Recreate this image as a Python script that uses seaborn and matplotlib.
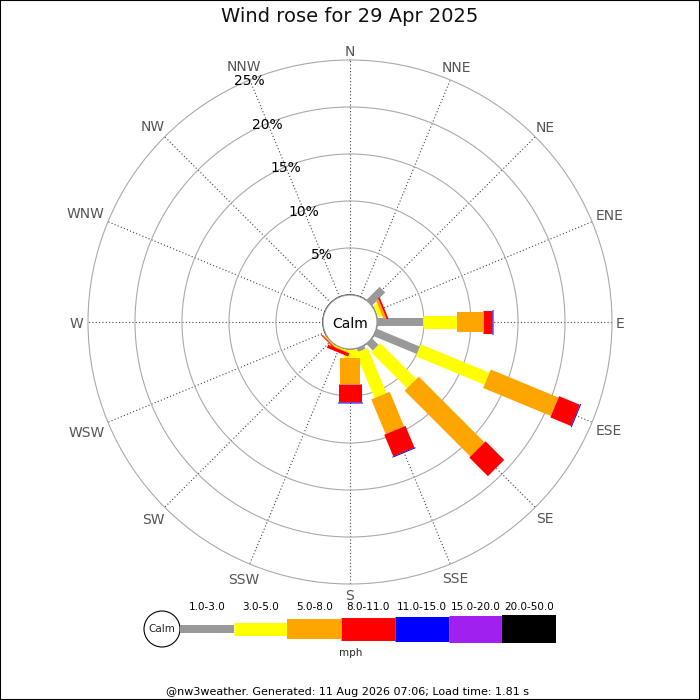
import numpy as np
import seaborn as sns
import matplotlib.pyplot as plt
from matplotlib.patches import Circle, Rectangle
from matplotlib.textpath import TextPath

# =========================
# Data (percent of the day per direction and speed band)
# =========================
directions = ['N', 'NNE', 'NE', 'ENE', 'E', 'ESE', 'SE', 'SSE',
              'S', 'SSW', 'SW', 'WSW', 'W', 'WNW', 'NW', 'NNW']
speed_bins = ['1.0-3.0', '3.0-5.0', '5.0-8.0', '8.0-11.0',
              '11.0-15.0', '15.0-20.0', '20.0-50.0']
bin_colors = ['#999999', '#ffff00', '#ffa500', '#ff0000',
              '#0000ff', '#a020f0', '#000000']

#            N    NNE  NE   ENE  E    ESE  SE   SSE  S    SSW   SW   WSW  W    WNW  NW   NNW
pct_1_3   = [0,   0,   2.0, 0.1, 4.9, 5.0, 1.0, 0.4, 0,   0,    0,   0,   0,   0,   0,   0]
pct_3_5   = [0,   0,   0,   0.45, 3.6, 7.9, 5.4, 5.2, 1.0, 0.15, 0.1, 0,   0,   0,   0,   0]
pct_5_8   = [0,   0,   0,   0.3, 2.8, 7.8, 9.9, 4.0, 2.7, 0.1,  0.1, 0,   0,   0,   0,   0]
pct_8_11  = [0,   0,   0,   0.2, 0.9, 2.4, 2.8, 2.5, 1.9, 0.35, 0.1, 0,   0,   0,   0,   0]
pct_11_15 = [0,   0,   0,   0,   0.1, 0.1, 0,   0.1, 0.15, 0,   0,   0,   0,   0,   0,   0]
pct_15_20 = [0] * 16
pct_20_50 = [0] * 16

ring_pcts = [5, 10, 15, 20, 25]
title = 'Wind rose for 29 Apr 2025'
footer = '@nw3weather. Generated: 11 Aug 2026 07:06; Load time: 1.81 s'

# bar thickness (pixels) per speed band, wider for stronger winds
bar_px = [8, 13, 20, 23, 25, 27, 28]

pct_table = np.array([pct_1_3, pct_3_5, pct_5_8, pct_8_11,
                      pct_11_15, pct_15_20, pct_20_50])

# =========================
# Figure setup
# =========================
sns.set_theme(style="white")
plt.rcParams['font.family'] = ['DejaVu Sans']

DPI = 100
fig = plt.figure(figsize=(7, 7), dpi=DPI)
fig.patch.set_facecolor('white')

# polar area: centre (350, 322) px, outer radius 262 px
R_PX = 262
CALM_PX = 27
rorigin = -CALM_PX * ring_pcts[-1] / (R_PX - CALM_PX)
ppu = R_PX / (ring_pcts[-1] - rorigin)   # pixels per percent

ax = fig.add_axes([(350 - R_PX) / 700, (700 - 322 - R_PX) / 700,
                   2 * R_PX / 700, 2 * R_PX / 700], projection='polar')
ax.set_theta_zero_location('N')
ax.set_theta_direction(-1)
ax.set_ylim(0, ring_pcts[-1])
ax.set_rorigin(rorigin)

thetas = np.radians(np.arange(len(directions)) * 22.5)
ax.set_xticks(thetas)
ax.set_xticklabels([])
ax.set_yticks(ring_pcts[:-1])
ax.set_yticklabels([])
ax.tick_params(length=0)
ax.xaxis.grid(True, linestyle=(0, (1, 2)), color='#444444', linewidth=0.8)
ax.yaxis.grid(True, linestyle='-', color='#aaaaaa', linewidth=0.8)
ax.spines['polar'].set_color('#aaaaaa')
ax.spines['polar'].set_linewidth(0.8)
ax.spines['inner'].set_visible(False)
ax.set_facecolor('white')

# =========================
# Stacked bars
# =========================
bottoms = np.zeros(len(directions))
for i, vals in enumerate(pct_table):
    mask = vals > 0
    if mask.any():
        ax.vlines(thetas[mask], bottoms[mask], bottoms[mask] + vals[mask],
                  colors=bin_colors[i], linewidths=bar_px[i] * 72 / DPI,
                  capstyle='butt', zorder=3)
    bottoms += vals

# calm circle in the middle (covers the spoke ends)
ax.add_patch(Circle((0.5, 0.5), CALM_PX / (2 * R_PX), transform=ax.transAxes,
                    facecolor='white', edgecolor='#999999', linewidth=0.8,
                    zorder=4, clip_on=False))
ax.text(0.5, 0.5, 'Calm', transform=ax.transAxes, ha='center',
        va='center_baseline', fontsize=10, color='black', zorder=5)

# ring labels along the NNW spoke
for p in ring_pcts:
    ax.text(np.radians(337.5), p, f'{p}%', ha='center', va='center_baseline',
            fontsize=10, color='black', zorder=5)

# direction labels just outside the outer ring
for th, lab in zip(thetas, directions):
    w_px = TextPath((0, 0), lab, size=10).get_extents().width * DPI / 72
    r_px = R_PX + 5 + 0.5 * w_px * abs(np.sin(th)) + 5 * abs(np.cos(th))
    ax.text(th, (r_px - CALM_PX) / ppu, lab, ha='center', va='center_baseline',
            fontsize=10, color='#555555', clip_on=False)

# =========================
# Legend strip
# =========================
lx0, lx1, ly0, ly1 = 140, 560, 590, 665
leg = fig.add_axes([lx0 / 700, (700 - ly1) / 700,
                    (lx1 - lx0) / 700, (ly1 - ly0) / 700])
leg.set_xlim(lx0, lx1)
leg.set_ylim(ly1, ly0)
leg.axis('off')

seg_start, seg_end, seg_y = 180, 556, 629
seg_w = (seg_end - seg_start) / len(speed_bins)
for i, (lab, col) in enumerate(zip(speed_bins, bin_colors)):
    x0 = seg_start + i * seg_w
    leg.hlines(seg_y, x0, x0 + seg_w, colors=col,
               linewidths=bar_px[i] * 72 / DPI, capstyle='butt')
    leg.text(x0 + seg_w / 2, 607, lab, ha='center', va='center',
             fontsize=7.5, color='black')

leg.add_patch(Circle((162, seg_y), 18, facecolor='white', edgecolor='black',
                     linewidth=0.8, clip_on=False))
leg.text(162, seg_y, 'Calm', ha='center', va='center', fontsize=7.5)
leg.text(351, 653, 'mph', ha='center', va='center', fontsize=7.5)

# =========================
# Title, footer, frame
# =========================
fig.text(0.5, 1 - 22 / 700, title, ha='center', va='baseline',
         fontsize=14, color='#111111')
fig.text(348 / 700, 1 - 692 / 700, footer, ha='center', va='center',
         fontsize=8, color='black')
fig.patches.append(Rectangle((0, 0), 1, 1, transform=fig.transFigure,
                             fill=False, edgecolor='black', linewidth=1.5))

fig.savefig('out.png', dpi=DPI)
